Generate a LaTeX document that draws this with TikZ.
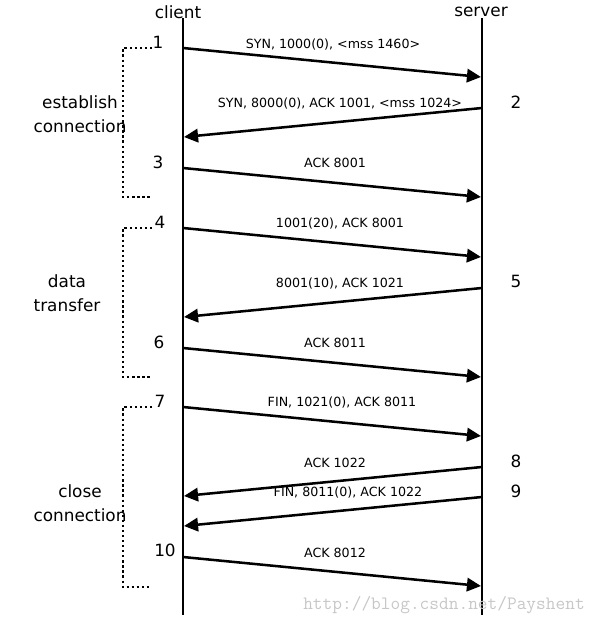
\documentclass[tikz,border=0pt]{standalone}
\usepackage{fontspec}
\setmainfont{DejaVu Sans}
\usetikzlibrary{arrows.meta}
\tikzset{
	lifeline/.style={line width=2.1pt},
	msg/.style={line width=1.8pt, -{Triangle[length=10pt,width=9.5pt]}},
	phase/.style={line width=1.7pt, dash pattern=on 1.6pt off 2pt},
	msglabel/.style={font=\fontsize{9}{11}\selectfont},
	num/.style={font=\fontsize{12}{14}\selectfont},
	phaselabel/.style={font=\fontsize{12}{17}\selectfont, align=center},
}
\begin{document}
\begin{tikzpicture}[x=0.025cm, y=-0.025cm]
		\useasboundingbox (0,0) rectangle (600,626);
		%--lifelines
		\coordinate (ctop) at (183,18);
		\coordinate (cbot) at (183,615);
		\coordinate (stop) at (482,18);
		\coordinate (sbot) at (482,615);
		\draw[lifeline] (ctop) -- (cbot);
		\draw[lifeline] (stop) -- (sbot);
		\node[num] (client) at (178,12) {client};
		\node[num] (server) at (481,12) {server};
		
		%--client to server
		\foreach \i/\y in {1/48, 3/168, 4/228, 6/348, 7/407, 10/557}
		{
			\coordinate (c\i) at (183,\y);
			\coordinate (s\i) at (481,\y+29);
			\draw[msg] (c\i) -- (s\i);
		}
		%--server to client
		\foreach \i/\y in {2/108, 5/288, 8/467, 9/497}
		{
			\coordinate (s\i) at (482,\y);
			\coordinate (c\i) at (184,\y+29);
			\draw[msg] (s\i) -- (c\i);
		}
		
		%--segment labels
		\node[msglabel] (m1) at (333,45) {SYN, 1000(0), <mss 1460>};
		\node[msglabel] (m2) at (340,104) {SYN, 8000(0), ACK 1001, <mss 1024>};
		\node[msglabel] (m3) at (335,163) {ACK 8001};
		\node[msglabel] (m4) at (340,224) {1001(20), ACK 8001};
		\node[msglabel] (m5) at (340,284) {8001(10), ACK 1021};
		\node[msglabel] (m6) at (335,343) {ACK 8011};
		\node[msglabel] (m7) at (342,403) {FIN, 1021(0), ACK 8011};
		\node[msglabel] (m8) at (335,463) {ACK 1022};
		\node[msglabel] (m9) at (348,493) {FIN, 8011(0), ACK 1022};
		\node[msglabel] (m10) at (335,553) {ACK 8012};
		
		%--step numbers
		\foreach \i/\x/\y in {1/158/42, 3/158/162, 4/160/222, 6/159/342, 7/160/401, 10/165/550,
			2/516/102, 5/516/281, 8/516/461, 9/516/491}
			\node[num] (n\i) at (\x,\y) {\i};
		
		%--phases
		\draw[phase] (152,48) -| (123,197) -- (150,197);
		\draw[phase] (152,228) -| (123,377) -- (150,377);
		\draw[phase] (152,407) -| (123,587) -- (150,587);
		\node[phaselabel] (establish) at (80,114) {establish\\connection};
		\node[phaselabel] (transfer) at (67,293) {data\\transfer};
		\node[phaselabel] (close) at (80,503) {close\\connection};
		
		%--watermark
		\node[font=\ttfamily\fontsize{13.4}{15}\selectfont, text=black!22] (mark) at (444,605) {http://blog.csdn.net/Payshent};
	\end{tikzpicture}
\end{document}
